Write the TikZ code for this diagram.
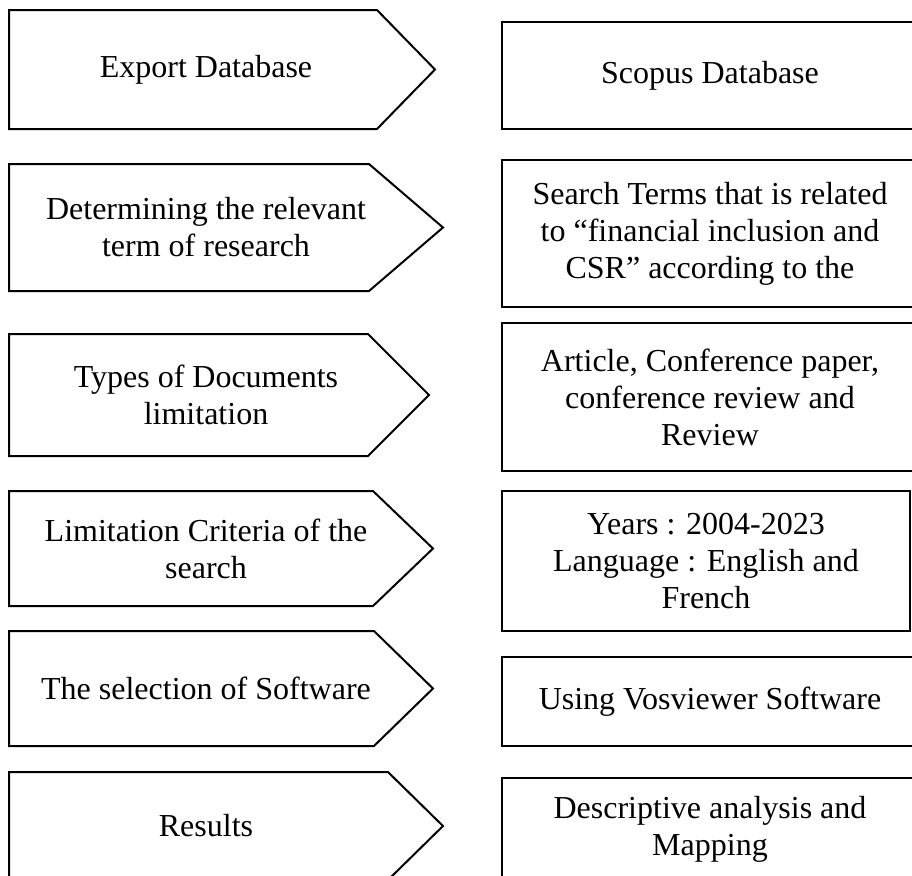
\documentclass[tikz,border=0pt]{standalone}
\usepackage{fontspec}
\setmainfont{Liberation Serif}
\usetikzlibrary{positioning}
\tikzset{
  outline/.style={draw=black, line width=1pt, line join=miter},
  stagetext/.style={align=center, inner sep=0pt,
                    font=\fontsize{16}{18.5}\selectfont},
  infobox/.style={rectangle, outline, stagetext},
}
% left column: arrow-shaped step with its caption
% #1 name, #2 top, #3 bottom, #4 shoulder x, #5 tip x, #6 text
\newcommand{\stagearrow}[6]{%
  \draw[outline] (9,#2) -- (#4,#2) -- (#5,{(#2+#3)/2}) -- (#4,#3) -- (9,#3) -- cycle;
  \node[stagetext] (#1) at (206,{(#2+#3)/2}) {#6};
}

\begin{document}
\begin{tikzpicture}[x=0.5pt, y=-0.5pt]
  \clip (0,0) rectangle (912,875);
  \fill[white] (0,0) rectangle (912,875);

  % steps
  \stagearrow{export}{10}{129}{377}{435}{Export Database}
  \stagearrow{terms}{164}{291}{369}{443}{Determining the relevant\\term of research}
  \stagearrow{doctypes}{334}{456}{368}{429}{Types of Documents\\limitation}
  \stagearrow{criteria}{491}{606}{373}{433}{Limitation Criteria of the\\search}
  \stagearrow{software}{631}{746}{374}{433}{The selection of Software}
  \stagearrow{results}{772}{880}{388}{443}{Results}

  % details
  \node[infobox, minimum width=208pt, minimum height=53.5pt] (scopus) at (710,75.5) {Scopus Database};
  \node[infobox, minimum width=208pt, minimum height=73.5pt] (search) at (710,233.5)
    {Search Terms that is related\\to ``financial inclusion and\\CSR'' according to the};
  \node[infobox, minimum width=208pt, minimum height=74pt] (articles) at (710,397)
    {Article, Conference paper,\\conference review and\\Review};
  \node[infobox, minimum width=204pt, minimum height=70pt] (years) at (706,561)
    {Years : 2004-2023\\Language : English and\\French};
  \node[infobox, minimum width=208pt, minimum height=44.5pt] (vos) at (710,701.5) {Using Vosviewer Software};
  \node[infobox, minimum width=208pt, minimum height=51pt] (mapping) at (710,829)
    {Descriptive analysis and\\Mapping};
\end{tikzpicture}
\end{document}
